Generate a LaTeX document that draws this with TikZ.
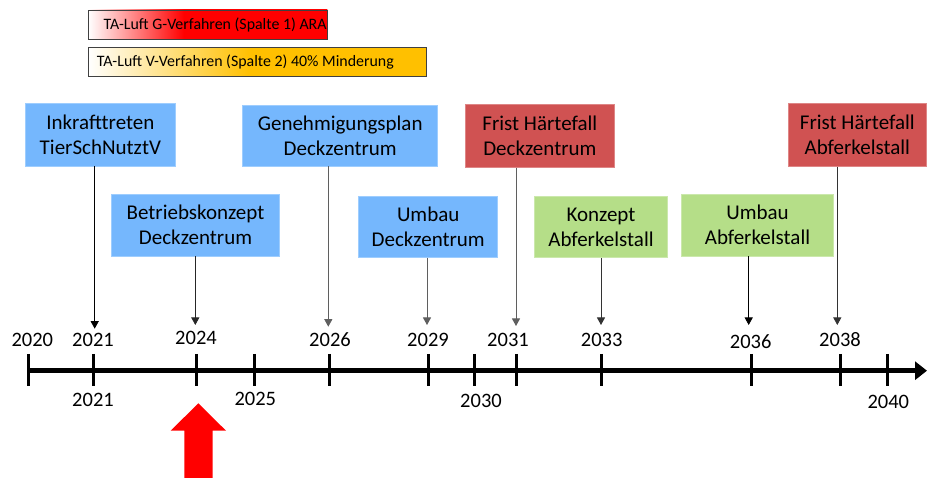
\documentclass[tikz,border=0pt]{standalone}
\usepackage{fontspec}
\setmainfont{Carlito}
\usetikzlibrary{arrows.meta}
\definecolor{boxblue}{RGB}{117,183,253}
\definecolor{boxred}{RGB}{208,82,82}
\definecolor{boxgreen}{RGB}{181,222,136}
\definecolor{legorange}{RGB}{255,192,0}
\definecolor{lineGray}{RGB}{95,95,95}
\pgfdeclarehorizontalshading{legredshade}{100bp}{color(0bp)=(white); color(25bp)=(white); color(45bp)=(red); color(100bp)=(red)}
\pgfdeclarehorizontalshading{legorangeshade}{100bp}{color(0bp)=(white); color(25bp)=(white); color(49bp)=(legorange); color(100bp)=(legorange)}
\tikzset{
  evbox/.style={inner sep=0pt, align=center, font=\fontsize{21}{25}\selectfont, draw=#1!70!white, line width=0.6pt, fill=#1},
  legbox/.style={draw=black!75, line width=0.8pt, inner sep=0pt, anchor=north west},
  legtext/.style={anchor=west, inner sep=0pt, font=\fontsize{15.9}{18}\selectfont},
  yr/.style={inner sep=0pt, font=\fontsize{20.5}{24}\selectfont},
  conn/.style={line width=0.8pt, -{Triangle[length=7.5pt,width=8pt]}},
  tickmark/.style={line width=3pt},
  axis/.style={line width=5pt, -{Triangle[length=12pt,width=18pt]}}
}
\begin{document}
\begin{tikzpicture}[x=1pt,y=-1pt]
\useasboundingbox (0,0) rectangle (927,478);
% legend
\path[legbox, shading=legredshade] (88.3,10) rectangle (327.3,39.3);
\draw[legbox] (88.3,10) rectangle (327.3,39.3);
\node[legtext] (lg1) at (103.3,25) {TA-Luft G-Verfahren (Spalte 1) ARA};
\path[shading=legorangeshade] (88.3,47.3) rectangle (426.7,76.7);
\draw[legbox] (88.3,47.3) rectangle (426.7,76.7);
\node[legtext] (lg2) at (96.7,62) {TA-Luft V-Verfahren (Spalte 2) 40\% Minderung};
% event boxes
\node[evbox=boxblue, minimum width=149.3pt, minimum height=62.7pt] (ink) at (100.35,134.65) {Inkrafttreten\\TierSchNutztV};
\node[evbox=boxblue, minimum width=167.6pt, minimum height=62pt] (bet) at (195.5,225) {Betriebskonzept\\Deckzentrum};
\node[evbox=boxblue, minimum width=195pt, minimum height=61pt] (gen) at (340.2,135.5) {Genehmigungsplan\\Deckzentrum};
\node[evbox=boxblue, minimum width=139pt, minimum height=61.7pt] (umb) at (428.2,226.85) {Umbau\\Deckzentrum};
\node[evbox=boxred, minimum width=148.3pt, minimum height=63.3pt] (fhd) at (539.85,135.65) {Frist Härtefall\\Deckzentrum};
\node[evbox=boxgreen, minimum width=132.6pt, minimum height=61.7pt] (kon) at (601,226.85) {Konzept\\Abferkelstall};
\node[evbox=boxgreen, minimum width=151.6pt, minimum height=62pt] (uma) at (757.5,225) {Umbau\\Abferkelstall};
\node[evbox=boxred, minimum width=137.3pt, minimum height=63.4pt] (fha) at (857.35,135) {Frist Härtefall\\Abferkelstall};
% arrow tips
\coordinate (t1) at (94.7,328.7);
\coordinate (t2) at (195.3,325);
\coordinate (t3) at (328.3,326.7);
\coordinate (t4) at (427,325);
\coordinate (t5) at (516,326);
\coordinate (t6) at (601,325);
\coordinate (t7) at (748.7,325);
\coordinate (t8) at (837.3,325);
\draw[conn, black] (ink.south -| t1) -- (t1);
\draw[conn, black!85] (bet.south -| t2) -- (t2);
\draw[conn, lineGray] (gen.south -| t3) -- (t3);
\draw[conn, lineGray] (umb.south -| t4) -- (t4);
\draw[conn, lineGray] (fhd.south -| t5) -- (t5);
\draw[conn, black!80] (kon.south -| t6) -- (t6);
\draw[conn, black] (uma.south -| t7) -- (t7);
\draw[conn, black!80] (fha.south -| t8) -- (t8);
% axis
\coordinate (axs) at (28.7,370.7);
\coordinate (axe) at (927,370.7);
\draw[axis] (axs) -- (axe);
\foreach \x in {28.7,93,196,254.3,329,428.3,474,516,601.7,751.3,840.3,887.7}
  \draw[tickmark] (\x,354) -- (\x,386.5);
% year labels above
\node[yr] (y2020) at (32.3,340) {2020};
\node[yr] (y2021a) at (93,340) {2021};
\node[yr] (y2024) at (196,338.3) {2024};
\node[yr] (y2026) at (330,340) {2026};
\node[yr] (y2029) at (428,340) {2029};
\node[yr] (y2031) at (508,340) {2031};
\node[yr] (y2033) at (601.7,340) {2033};
\node[yr] (y2036) at (750.7,341.7) {2036};
\node[yr] (y2038) at (840,340) {2038};
% year labels below
\node[yr] (y2021b) at (93,400) {2021};
\node[yr] (y2025) at (255.3,399) {2025};
\node[yr] (y2030) at (481,401) {2030};
\node[yr] (y2040) at (888.3,401.7) {2040};
% red arrow
\fill[red] (198.3,403.3) -- (226,430.7) -- (212.7,430.7) -- (212.7,478) -- (184.3,478) -- (184.3,430.7) -- (170.7,430.7) -- cycle;
\end{tikzpicture}
\end{document}
